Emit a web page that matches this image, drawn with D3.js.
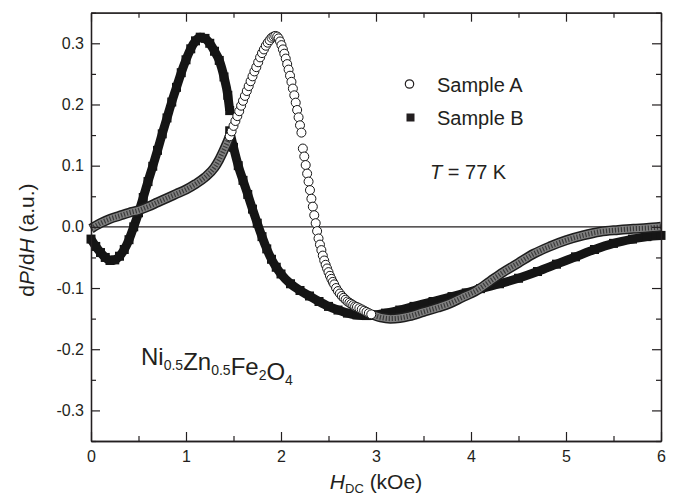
<!DOCTYPE html>
<html>
<head>
<meta charset="utf-8">
<script src="https://cdn.jsdelivr.net/npm/d3@7"></script>
<style>
    body { margin: 0; background: #fff; }
    text { font-family: Arial, "Liberation Sans", Helvetica, sans-serif; fill: #231f20; }
</style>
</head>
<body>
<div id="chart"></div>
<script>
'use strict';

// axis ticks
const xTicks = [0, 1, 2, 3, 4, 5, 6];
const xMinorTicks = [0.5, 1.5, 2.5, 3.5, 4.5, 5.5];
const yTicks = [-0.3, -0.2, -0.1, 0.0, 0.1, 0.2, 0.3];
const yMinorTicks = [-0.35, -0.25, -0.15, -0.05, 0.05, 0.15, 0.25, 0.35];
const seriesNames = ['Sample A', 'Sample B'];

// Sample A (open circles) - low field part, markers merge into a band
const aLowX = [0, 0.1, 0.2, 0.3, 0.4, 0.5, 0.6, 0.7, 0.8, 0.9, 1.0, 1.1, 1.2, 1.3, 1.35, 1.4, 1.44, 1.46];
const aLowY = [-0.003, 0.006, 0.013, 0.018, 0.023, 0.027, 0.033, 0.040, 0.047, 0.054, 0.061, 0.070, 0.081, 0.097, 0.110, 0.126, 0.140, 0.148];

// Sample A - resonance part, markers drawn one by one
const aPeakX = [1.46, 1.48, 1.50, 1.52, 1.54, 1.56, 1.58, 1.60, 1.62, 1.64, 1.66, 1.68, 1.70, 1.72, 1.74, 1.76, 1.78, 1.80,
    1.82, 1.84, 1.86, 1.88, 1.90, 1.92, 1.94, 1.96, 1.975, 1.99, 2.005, 2.02, 2.035, 2.05, 2.065, 2.08, 2.095, 2.11,
    2.125, 2.14, 2.155, 2.17, 2.185, 2.20, 2.215, 2.23, 2.245, 2.26, 2.275, 2.29, 2.305, 2.32, 2.335, 2.35, 2.365,
    2.38, 2.395, 2.41, 2.425, 2.44, 2.455, 2.47, 2.485, 2.50, 2.515, 2.53, 2.545, 2.56, 2.58, 2.60, 2.62, 2.64, 2.66,
    2.68, 2.70, 2.72, 2.74, 2.76, 2.78, 2.80, 2.825, 2.85, 2.875, 2.90, 2.925, 2.95];
const aPeakY = [0.148, 0.156, 0.165, 0.173, 0.181, 0.189, 0.198, 0.206, 0.214, 0.222, 0.230, 0.238, 0.246, 0.254, 0.261,
    0.269, 0.277, 0.284, 0.290, 0.296, 0.301, 0.305, 0.309, 0.311, 0.312, 0.311, 0.308, 0.303, 0.297, 0.290, 0.283,
    0.275, 0.266, 0.257, 0.247, 0.237, 0.226, 0.215, 0.203, 0.191, 0.179, 0.166, 0.154, 0.128, 0.115, 0.101, 0.087,
    0.074, 0.060, 0.046, 0.033, 0.019, 0.006, -0.007, -0.019, -0.029, -0.038, -0.047, -0.055, -0.062, -0.068, -0.074,
    -0.080, -0.085, -0.090, -0.094, -0.100, -0.105, -0.109, -0.113, -0.116, -0.119, -0.122, -0.124, -0.126, -0.128,
    -0.130, -0.131, -0.133, -0.135, -0.137, -0.139, -0.141, -0.143];

// Sample A - high field tail
const aTailX = [2.95, 3.05, 3.15, 3.25, 3.35, 3.5, 3.65, 3.78, 3.9, 4.06, 4.2, 4.34, 4.5, 4.66, 4.83, 5.0, 5.18, 5.36, 5.55, 5.71, 5.85, 6.0];
const aTailY = [-0.143, -0.148, -0.150, -0.149, -0.146, -0.139, -0.132, -0.125, -0.116, -0.104, -0.089, -0.074, -0.059, -0.044, -0.032, -0.022, -0.014, -0.008, -0.005, -0.003, -0.002, 0.0];

// Sample B (filled squares), two runs with a jump at 1.46 kOe
const bRiseX = [0, 0.05, 0.1, 0.15, 0.2, 0.25, 0.3, 0.35, 0.4, 0.45, 0.5, 0.55, 0.6, 0.65, 0.7, 0.75, 0.8, 0.85, 0.9, 0.95,
    1.0, 1.05, 1.1, 1.15, 1.2, 1.25, 1.3, 1.35, 1.4, 1.44, 1.46];
const bRiseY = [-0.020, -0.032, -0.042, -0.050, -0.055, -0.054, -0.048, -0.037, -0.021, 0.000, 0.023, 0.048, 0.074, 0.099,
    0.125, 0.152, 0.178, 0.204, 0.228, 0.252, 0.273, 0.291, 0.304, 0.310, 0.308, 0.300, 0.287, 0.272, 0.245, 0.215, 0.190];
const bFallX = [1.46, 1.50, 1.55, 1.60, 1.65, 1.70, 1.75, 1.80, 1.85, 1.90, 1.95, 2.00, 2.10, 2.20, 2.30, 2.40, 2.50, 2.60,
    2.70, 2.80, 2.90, 3.00, 3.10, 3.25, 3.40, 3.60, 3.80, 3.95, 4.10, 4.30, 4.50, 4.70, 4.90, 5.10, 5.30, 5.50, 5.70, 5.85, 6.00];
const bFallY = [0.157, 0.130, 0.100, 0.076, 0.053, 0.029, 0.006, -0.016, -0.036, -0.053, -0.066, -0.077, -0.093, -0.104,
    -0.113, -0.122, -0.130, -0.136, -0.141, -0.144, -0.145, -0.144, -0.141, -0.136, -0.130, -0.122, -0.114, -0.108,
    -0.101, -0.093, -0.084, -0.073, -0.061, -0.049, -0.037, -0.027, -0.020, -0.016, -0.014];

const settings = {
    width: 680,
    height: 498,
    elId: '#chart',
};

const frame = { left: 91, right: 661, top: 12.7, bottom: 441 };
const ink = '#231f20';

const zip = (xs, ys) => xs.map((v, i) => [v, ys[i]]);

const svg = d3.select(settings.elId)
    .append('svg')
    .attr('width', settings.width)
    .attr('height', settings.height);

const x = d3.scaleLinear().domain([0, 6]).range([frame.left, frame.right]);
const y = d3.scaleLinear().domain([-0.35, 0.35]).range([frame.bottom, frame.top]);

const line = d3.line()
    .x(d => x(d[0]))
    .y(d => y(d[1]))
    .curve(d3.curveMonotoneX);

// zero line
svg.append('line')
    .attr('x1', x(0)).attr('x2', x(6))
    .attr('y1', y(0)).attr('y2', y(0))
    .attr('stroke', ink)
    .attr('stroke-width', 1.1);

// Sample B
const gB = svg.append('g').attr('id', 'sample-b');
[zip(bRiseX, bRiseY), zip(bFallX, bFallY)].forEach(run => {
    gB.append('path')
        .attr('d', line(run))
        .attr('fill', 'none')
        .attr('stroke', '#151515')
        .attr('stroke-width', 9)
        .attr('stroke-linejoin', 'round');
    gB.selectAll(null)
        .data(run)
        .enter()
        .append('rect')
        .attr('x', d => x(d[0]) - 4.5)
        .attr('y', d => y(d[1]) - 4.5)
        .attr('width', 9)
        .attr('height', 9)
        .attr('fill', '#151515');
});

// Sample A
const gA = svg.append('g').attr('id', 'sample-a');
[zip(aLowX, aLowY), zip(aTailX, aTailY)].forEach(run => {
    gA.append('path')
        .attr('d', line(run))
        .attr('fill', 'none')
        .attr('stroke', '#1e1e1e')
        .attr('stroke-width', 10);
    gA.append('path')
        .attr('d', line(run))
        .attr('fill', 'none')
        .attr('stroke', '#808080')
        .attr('stroke-width', 7);
    gA.append('path')
        .attr('d', line(run))
        .attr('fill', 'none')
        .attr('stroke', '#3a3a3a')
        .attr('stroke-width', 5)
        .attr('stroke-dasharray', '1.2 1.8');
});
gA.selectAll('circle')
    .data(zip(aPeakX, aPeakY))
    .enter()
    .append('circle')
    .attr('cx', d => x(d[0]))
    .attr('cy', d => y(d[1]))
    .attr('r', 4.5)
    .attr('fill', '#fff')
    .attr('stroke', '#151515')
    .attr('stroke-width', 1);

// axes, ticks pointing inwards
function styleAxis(g, labels) {
    g.select('.domain').attr('stroke', ink).attr('stroke-width', 1.3);
    g.selectAll('.tick line').attr('stroke', ink).attr('stroke-width', 1.2);
    g.selectAll('.tick text')
        .attr('font-size', labels ? 16 : 0)
        .attr('font-family', 'Arial, "Liberation Sans", sans-serif')
        .attr('fill', ink);
    g.attr('font-family', null).attr('font-size', null);
}

const yFmt = d => d3.format('.1f')(d).replace('−', '-');

svg.append('g')
    .attr('transform', `translate(0,${frame.bottom})`)
    .call(d3.axisBottom(x).tickValues(xTicks).tickSize(-9).tickSizeOuter(0).tickPadding(10).tickFormat(d3.format('d')))
    .call(g => styleAxis(g, true));
svg.append('g')
    .attr('transform', `translate(0,${frame.bottom})`)
    .call(d3.axisBottom(x).tickValues(xMinorTicks).tickSize(-5).tickSizeOuter(0).tickFormat(''))
    .call(g => styleAxis(g, false));
svg.append('g')
    .attr('transform', `translate(0,${frame.top})`)
    .call(d3.axisTop(x).tickValues(xTicks).tickSize(-9).tickSizeOuter(0).tickFormat(''))
    .call(g => styleAxis(g, false));
svg.append('g')
    .attr('transform', `translate(0,${frame.top})`)
    .call(d3.axisTop(x).tickValues(xMinorTicks).tickSize(-5).tickSizeOuter(0).tickFormat(''))
    .call(g => styleAxis(g, false));

svg.append('g')
    .attr('transform', `translate(${frame.left},0)`)
    .call(d3.axisLeft(y).tickValues(yTicks).tickSize(-9).tickSizeOuter(0).tickPadding(7).tickFormat(yFmt))
    .call(g => styleAxis(g, true));
svg.append('g')
    .attr('transform', `translate(${frame.left},0)`)
    .call(d3.axisLeft(y).tickValues(yMinorTicks).tickSize(-5).tickSizeOuter(0).tickFormat(''))
    .call(g => styleAxis(g, false));
svg.append('g')
    .attr('transform', `translate(${frame.right},0)`)
    .call(d3.axisRight(y).tickValues(yTicks).tickSize(-9).tickSizeOuter(0).tickFormat(''))
    .call(g => styleAxis(g, false));
svg.append('g')
    .attr('transform', `translate(${frame.right},0)`)
    .call(d3.axisRight(y).tickValues(yMinorTicks).tickSize(-5).tickSizeOuter(0).tickFormat(''))
    .call(g => styleAxis(g, false));

// axis titles
const yTitle = svg.append('text')
    .attr('transform', 'translate(34,240) rotate(-90)')
    .attr('text-anchor', 'middle')
    .attr('font-size', 21);
yTitle.append('tspan').text('d');
yTitle.append('tspan').attr('font-style', 'italic').text('P');
yTitle.append('tspan').text('/d');
yTitle.append('tspan').attr('font-style', 'italic').text('H');
yTitle.append('tspan').text(' (a.u.)');

const xTitle = svg.append('text')
    .attr('x', (frame.left + frame.right) / 2)
    .attr('y', 489)
    .attr('text-anchor', 'middle')
    .attr('font-size', 21);
xTitle.append('tspan').attr('font-style', 'italic').text('H');
xTitle.append('tspan').attr('font-size', 13).attr('dy', 4).text('DC');
xTitle.append('tspan').attr('dy', -4).text(' (kOe)');

// legend
const legend = svg.append('g').attr('id', 'legend');
legend.append('circle')
    .attr('cx', 409.5).attr('cy', 84).attr('r', 4.2)
    .attr('fill', '#fff').attr('stroke', ink).attr('stroke-width', 1.2);
legend.append('rect')
    .attr('x', 406.5).attr('y', 113.5).attr('width', 8).attr('height', 8)
    .attr('fill', ink);
legend.selectAll('text')
    .data(seriesNames)
    .enter()
    .append('text')
    .attr('x', 437)
    .attr('y', (d, i) => 91.5 + i * 33.5)
    .attr('font-size', 20)
    .text(d => d);

const temp = svg.append('text')
    .attr('x', 430)
    .attr('y', 179)
    .attr('font-size', 20);
temp.append('tspan').attr('font-style', 'italic').text('T');
temp.append('tspan').text(' = 77 K');

// composition label
const formula = svg.append('text')
    .attr('x', 141)
    .attr('y', 365)
    .attr('font-size', 24);
[['Ni', '0.5'], ['Zn', '0.5'], ['Fe', '2'], ['O', '4']].forEach(([el, n]) => {
    formula.append('tspan').attr('font-size', 24).text(el);
    formula.append('tspan').attr('font-size', 14).attr('dy', 5).text(n);
    formula.append('tspan').attr('font-size', 24).attr('dy', -5).text('');
});
</script>
</body>
</html>
